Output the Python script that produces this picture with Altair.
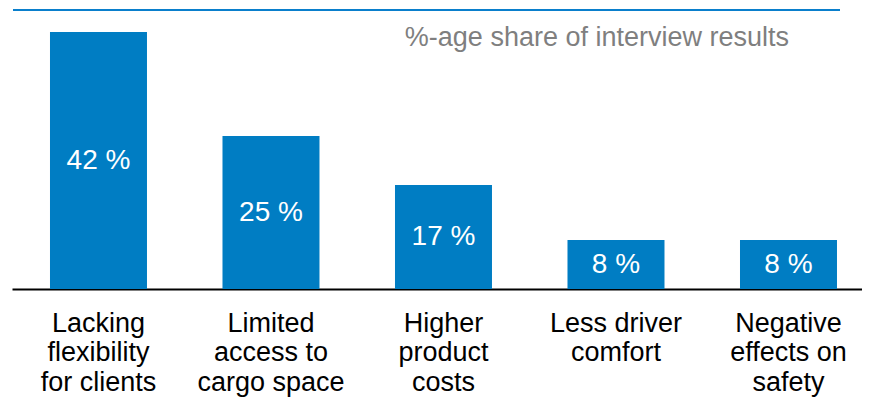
import altair as alt
import pandas as pd

categories = [
    "Lacking\nflexibility\nfor clients",
    "Limited\naccess to\ncargo space",
    "Higher\nproduct\ncosts",
    "Less driver\ncomfort",
    "Negative\neffects on\nsafety",
]
values = [42, 25, 17, 8, 8]
note = "%-age share of interview results"

df = pd.DataFrame({"cat": categories, "val": values})
df["lbl"] = [f"{v} %" for v in values]
df["mid"] = [v / 2 for v in values]

FONT = "Liberation Sans"
BLUE = "#007DC3"

x = alt.X(
    "cat:N",
    sort=None,
    scale=alt.Scale(paddingInner=0.4377, paddingOuter=0.1826, align=0.603),
    axis=alt.Axis(
        title=None, ticks=False, labelAngle=0, labelFontSize=27, labelFont=FONT,
        labelColor="black", labelLineHeight=29.5, labelPadding=21,
        labelBaseline="top", labelExpr="split(datum.value, '\\n')",
        domainColor="black", domainWidth=2, labelLimit=400, labelOverlap=False,
        labelBound=False, grid=False,
    ),
)
yscale = alt.Scale(domain=[0, 45.6], nice=False)

base = alt.Chart(df)
bars = base.mark_bar(color=BLUE).encode(
    x=x, y=alt.Y("val:Q", scale=yscale, axis=None)
)
inner = base.mark_text(color="white", fontSize=28, font=FONT, baseline="middle").encode(
    x=x, y=alt.Y("mid:Q", scale=yscale, axis=None), text="lbl:N"
)
top = alt.Chart(pd.DataFrame({"a": [0]})).mark_rule(color="#0A7FCC", strokeWidth=2).encode(
    x=alt.value(1), x2=alt.value(828), y=alt.value(0)
)
title = alt.Chart(pd.DataFrame({"t": [note]})).mark_text(
    color="#7F7F7F", fontSize=27, font=FONT, align="right", baseline="alphabetic"
).encode(x=alt.value(777), y=alt.value(36), text="t:N")

chart = (
    alt.layer(bars, inner, top, title)
    .properties(
        width=850, height=279,
        autosize=alt.AutoSizeParams(type="none"),
        padding={"left": 4, "top": 2, "right": 0, "bottom": 109},
    )
    .configure(font=FONT)
    .configure_view(stroke="transparent", strokeWidth=0)
)
chart.save("out.html", embed_options={"renderer": "svg", "actions": False})
